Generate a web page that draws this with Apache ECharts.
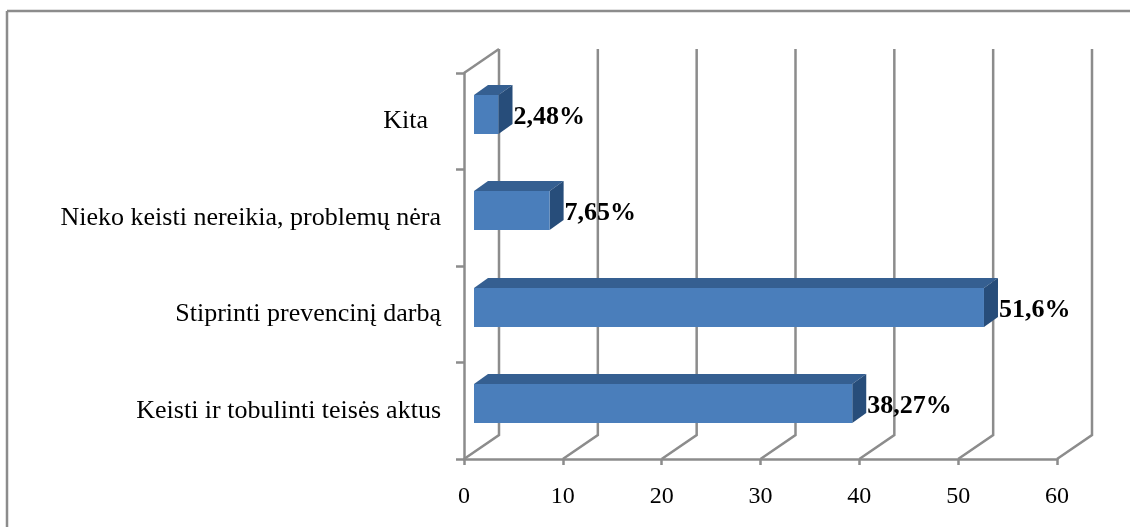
<!DOCTYPE html>
<html><head><meta charset="utf-8">
<style>html,body{margin:0;padding:0;background:#fff}#c{width:1130px;height:527px}</style>
<script src="https://cdn.jsdelivr.net/npm/echarts@6/dist/echarts.min.js"></script>
</head><body><div id="c"></div>
<script>
const categories = ['Keisti ir tobulinti teisės aktus', 'Stiprinti prevencinį darbą', 'Nieko keisti nereikia, problemų nėra', 'Kita  '];
const values = [38.27, 51.6, 7.65, 2.48];
const valueLabels = ['38,27%', '51,6%', '7,65%', '2,48%'];
const xTicks = [0, 10, 20, 30, 40, 50, 60];

const AXIS = '#8c8c8c', FRONT = '#4a7ebb', TOP = '#355f91', SIDE = '#274d7a';
const FONT = '"Liberation Serif","Times New Roman",serif';
const wall = {dx: 35, dy: -24}, barShift = {dx: 10, dy: -7}, depth = {dx: 14, dy: -10};

const chart = echarts.init(document.getElementById('c'), null, {renderer: 'canvas'});

function renderWall(params, api) {
  const x = api.coord([api.value(0), 0])[0];
  const yT = params.coordSys.y, yB = yT + params.coordSys.height;
  const line = {stroke: AXIS, lineWidth: 2.5, fill: null};
  const children = [{type: 'polyline', shape: {points: [[x, yB], [x + wall.dx, yB + wall.dy], [x + wall.dx, yT + wall.dy]]}, style: line}];
  if (api.value(0) === 0) {
    children.push({type: 'line', shape: {x1: x, y1: yT, x2: x + wall.dx, y2: yT + wall.dy}, style: line});
  }
  return {type: 'group', children};
}

function renderBar(params, api) {
  const v = api.value(0), c = api.value(1);
  const p0 = api.coord([0, c]), p1 = api.coord([v, c]);
  const h = api.size([0, 1])[1] * 0.4;
  const x0 = p0[0] + barShift.dx, x1 = p1[0] + barShift.dx;
  const yT = Math.round(p0[1] + barShift.dy - h / 2), yB = yT + Math.round(h);
  const d = depth;
  return {type: 'group', children: [
    {type: 'polygon', shape: {points: [[x0, yT], [x0 + d.dx, yT + d.dy], [x1 + d.dx, yT + d.dy], [x1, yT]]}, style: {fill: TOP}},
    {type: 'polygon', shape: {points: [[x1, yT], [x1 + d.dx, yT + d.dy], [x1 + d.dx, yB + d.dy], [x1, yB]]}, style: {fill: SIDE}},
    {type: 'rect', shape: {x: x0, y: yT, width: x1 - x0, height: yB - yT}, style: {fill: FRONT}},
    {type: 'text', z2: 50, style: {x: x1 + d.dx + 1, y: (yT + yB) / 2 + d.dy + 13, text: valueLabels[params.dataIndex],
      font: 'bold 26px ' + FONT, fill: '#000', align: 'left', verticalAlign: 'middle'}}
  ]};
}

chart.setOption({
  animation: false,
  backgroundColor: '#fff',
  graphic: [
    {type: 'line', shape: {x1: 7, y1: 11, x2: 1130, y2: 11}, style: {stroke: '#8c8c8c', lineWidth: 2.5}},
    {type: 'line', shape: {x1: 7, y1: 11, x2: 7, y2: 527}, style: {stroke: '#8c8c8c', lineWidth: 2.5}}
  ],
  grid: {left: 464, top: 73, width: 593, height: 386, containLabel: false},
  xAxis: {
    type: 'value', min: 0, max: 60, interval: 10,
    splitLine: {show: false},
    axisLine: {show: true, onZero: false, lineStyle: {color: AXIS, width: 2.5}},
    axisTick: {show: true, length: 6, lineStyle: {color: AXIS, width: 2.5}},
    axisLabel: {color: '#000', fontFamily: FONT, fontSize: 24, margin: 26}
  },
  yAxis: {
    type: 'category', data: categories,
    axisLine: {show: true, lineStyle: {color: AXIS, width: 2.5}},
    axisTick: {show: true, length: 8, alignWithLabel: false, lineStyle: {color: AXIS, width: 2.5}},
    axisLabel: {
      margin: 23, align: 'right', formatter: '{c|{value}}',
      rich: {c: {color: '#000', fontFamily: FONT, fontSize: 26, height: 32, lineHeight: 32, verticalAlign: 'bottom'}}
    }
  },
  series: [
    {type: 'custom', name: 'wall', renderItem: renderWall, z: 1, silent: true, clip: false,
     encode: {x: 0}, data: xTicks.map(t => [t])},
    {type: 'custom', name: 'values', renderItem: renderBar, z: 5, clip: false,
     encode: {x: 0, y: 1}, data: values.map((v, i) => [v, i])}
  ]
});
</script></body></html>
